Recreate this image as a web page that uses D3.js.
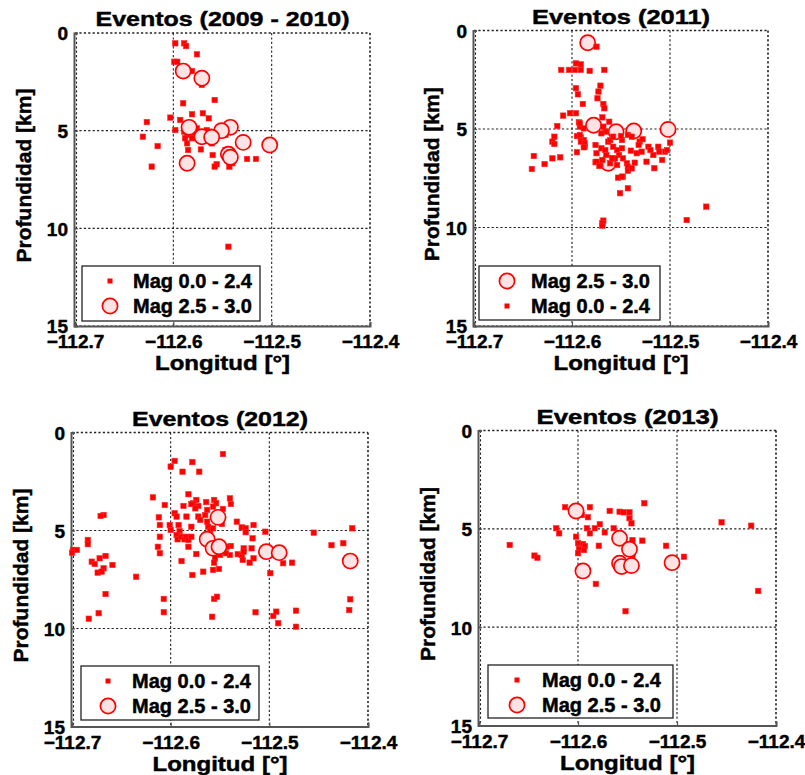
<!DOCTYPE html>
<html>
<head>
<meta charset="utf-8">
<script src="https://cdn.jsdelivr.net/npm/d3@7"></script>
<style>
  html, body { margin: 0; padding: 0; background: #fff; }
  svg { display: block; }
  text { paint-order: stroke; }
</style>
</head>
<body>
<div id="chart"></div>
<script>
// ---------------- DATA ----------------
const xTicks = [-112.7, -112.6, -112.5, -112.4];
const yTicks = [0, 5, 10, 15];
const titles = ["Eventos (2009 - 2010)", "Eventos (2011)", "Eventos (2012)", "Eventos (2013)"];
const xLabel = "Longitud [°]";
const yLabel = "Profundidad [km]";
const labelSmall = "Mag 0.0 - 2.4";
const labelLarge = "Mag 2.5 - 3.0";

// [longitude, depth km]
const small2009 = [
  [-112.598,0.53],[-112.589,0.53],[-112.587,0.67],[-112.576,1.09],[-112.599,1.47],[-112.596,1.47],
  [-112.593,2.03],[-112.581,1.95],[-112.571,2.66],[-112.558,3.43],[-112.590,3.6],[-112.581,4.16],
  [-112.570,4.11],[-112.564,4.37],[-112.603,4.33],[-112.593,4.45],[-112.627,4.56],[-112.631,5.31],
  [-112.598,4.97],[-112.616,5.79],[-112.622,6.84],[-112.586,5.65],[-112.585,5.99],[-112.572,5.96],
  [-112.589,5.05],[-112.586,5.22],[-112.583,5.0],[-112.580,5.14],[-112.576,4.88],[-112.575,5.05],
  [-112.581,5.39],[-112.588,5.39],[-112.566,4.97],[-112.563,5.05],[-112.547,5.22],[-112.561,5.65],
  [-112.547,5.99],[-112.560,6.25],[-112.556,6.72],[-112.558,6.84],[-112.542,6.59],[-112.540,6.67],
  [-112.543,6.84],[-112.525,6.45],[-112.516,6.45],[-112.544,10.94]
];
const large2009 = [
  [-112.590,1.95],[-112.571,2.32],[-112.584,4.83],[-112.542,4.83],[-112.551,5.0],[-112.571,5.31],
  [-112.561,5.34],[-112.529,5.6],[-112.502,5.73],[-112.544,6.21],[-112.542,6.36],[-112.586,6.67]
];

const small2011 = [
  [-112.575,0.82],[-112.596,1.67],[-112.591,1.72],[-112.611,2.0],[-112.603,2.0],[-112.597,2.0],
  [-112.591,2.0],[-112.582,2.05],[-112.567,2.0],[-112.571,2.8],[-112.596,2.93],[-112.573,3.1],
  [-112.594,3.24],[-112.574,3.44],[-112.568,3.73],[-112.567,3.95],[-112.589,3.73],[-112.602,4.2],
  [-112.596,4.2],[-112.609,4.32],[-112.569,4.41],[-112.562,4.63],[-112.615,4.85],[-112.593,4.66],
  [-112.592,4.88],[-112.588,4.97],[-112.618,5.39],[-112.620,5.64],[-112.618,5.76],[-112.595,5.36],
  [-112.591,5.42],[-112.588,5.56],[-112.587,5.9],[-112.595,6.18],[-112.576,5.81],[-112.575,6.23],
  [-112.639,6.37],[-112.628,6.78],[-112.620,6.49],[-112.612,6.44],[-112.641,7.03],[-112.576,6.69],
  [-112.571,6.83],[-112.553,7.47],[-112.548,7.42],[-112.551,8.26],[-112.543,8.01],
  [-112.592,4.71],[-112.568,4.88],[-112.566,5.14],[-112.570,5.22],[-112.592,5.3],[-112.591,5.64],
  [-112.587,5.73],[-112.588,5.93],[-112.563,5.64],[-112.561,5.56],[-112.558,5.39],[-112.549,5.56],
  [-112.550,5.36],[-112.570,5.98],[-112.566,6.07],[-112.565,6.32],[-112.569,6.57],[-112.554,6.07],
  [-112.549,5.98],[-112.552,6.32],[-112.556,6.49],[-112.554,6.83],[-112.548,6.49],[-112.544,6.74],
  [-112.575,6.66],[-112.572,6.88],[-112.561,6.74],[-112.543,6.91],[-112.543,7.12],[-112.539,7.0],
  [-112.549,7.42],[-112.540,6.1],[-112.534,6.23],[-112.536,6.71],[-112.529,6.15],[-112.531,5.64],
  [-112.532,5.81],[-112.528,5.52],[-112.524,6.66],[-112.522,5.9],[-112.520,6.07],[-112.517,6.32],
  [-112.516,6.99],[-112.512,5.9],[-112.511,6.15],[-112.508,6.57],[-112.505,6.15],[-112.503,6.07],
  [-112.500,5.69],[-112.543,5.3],[-112.539,5.39],[-112.559,6.49],[-112.558,5.9],
  [-112.568,9.65],[-112.569,9.79],[-112.569,9.91],[-112.483,9.62],[-112.463,8.94]
];
const large2011 = [
  [-112.584,0.62],[-112.578,4.81],[-112.555,5.14],[-112.537,5.10],[-112.502,5.02],[-112.563,6.74]
];

const small2012 = [
  [-112.547,1.1],[-112.596,1.45],[-112.600,1.74],[-112.578,1.51],[-112.588,2.0],[-112.571,2.0],
  [-112.618,3.31],[-112.582,3.15],[-112.606,3.7],[-112.587,3.75],[-112.564,3.55],[-112.556,3.44],
  [-112.554,3.61],[-112.557,3.78],[-112.547,3.9],[-112.540,3.36],[-112.539,3.65],[-112.596,4.12],
  [-112.594,4.29],[-112.584,4.29],[-112.572,4.29],[-112.570,4.46],[-112.612,4.33],[-112.611,4.72],
  [-112.601,4.72],[-112.600,4.97],[-112.533,4.55],[-112.528,4.84],[-112.524,4.89],[-112.516,4.72],
  [-112.524,5.09],[-112.504,5.06],[-112.517,5.4],[-112.611,5.32],[-112.613,5.83],[-112.611,6.16],
  [-112.582,5.83],[-112.574,6.2],[-112.589,6.56],[-112.500,6.25],[-112.497,6.2],[-112.486,6.67],
  [-112.477,6.64],[-112.499,7.18],[-112.557,7.01],[-112.551,6.96],[-112.567,7.1],[-112.578,7.27],
  [-112.635,7.36],[-112.455,5.11],[-112.437,5.75],[-112.425,5.65],[-112.416,4.89],[-112.418,8.51],
  [-112.419,9.06],[-112.668,4.21],[-112.671,4.26],[-112.699,5.99],[-112.695,5.99],[-112.700,6.13],
  [-112.684,5.48],[-112.684,5.7],[-112.680,6.59],[-112.677,6.71],[-112.672,6.42],[-112.666,6.3],
  [-112.668,6.93],[-112.674,7.15],[-112.670,7.1],[-112.659,6.76],[-112.666,8.24],[-112.673,9.22],
  [-112.683,9.5],[-112.607,8.49],[-112.607,9.17],[-112.556,8.49],[-112.553,8.38],[-112.558,9.4],
  [-112.514,9.17],[-112.496,9.36],[-112.493,9.14],[-112.491,9.73],[-112.473,9.09],[-112.473,9.91],
  [-112.592,4.72],[-112.591,5.03],[-112.594,5.23],[-112.593,5.45],[-112.589,5.32],[-112.586,5.45],
  [-112.584,5.32],[-112.582,5.48],[-112.579,5.32],[-112.579,4.81],[-112.574,3.44],[-112.577,3.61],
  [-112.572,3.75],[-112.575,3.87],[-112.579,3.65],[-112.563,4.55],[-112.562,4.81],[-112.560,5.01],
  [-112.557,4.89],[-112.548,4.67],[-112.548,4.41],[-112.565,4.21],[-112.563,3.95],[-112.555,6.16],
  [-112.555,6.42],[-112.556,6.64],[-112.550,6.25],[-112.547,6.08],[-112.540,6.25],[-112.544,6.16],
  [-112.532,6.21],[-112.528,6.25],[-112.527,6.5],[-112.526,5.91],[-112.526,6.08],[-112.518,5.91],
  [-112.516,6.42],[-112.520,6.64],[-112.539,5.79],[-112.543,5.83]
];
const large2012 = [
  [-112.552,4.33],[-112.563,5.45],[-112.557,5.91],[-112.551,5.83],[-112.503,6.08],[-112.490,6.13],
  [-112.418,6.56]
];

const small2013 = [
  [-112.533,3.7],[-112.613,3.9],[-112.588,3.9],[-112.568,4.09],[-112.558,4.13],[-112.554,4.16],
  [-112.548,4.16],[-112.596,4.3],[-112.590,4.41],[-112.548,4.46],[-112.546,4.72],[-112.578,4.77],
  [-112.622,4.97],[-112.619,5.23],[-112.591,4.97],[-112.583,4.97],[-112.564,4.97],[-112.588,5.23],
  [-112.573,5.18],[-112.602,5.4],[-112.545,5.57],[-112.535,5.6],[-112.669,5.82],[-112.600,5.73],
  [-112.595,5.77],[-112.593,5.87],[-112.599,6.02],[-112.594,6.08],[-112.600,6.24],[-112.579,5.86],
  [-112.511,5.86],[-112.644,6.36],[-112.641,6.47],[-112.545,6.42],[-112.493,6.42],[-112.582,7.8],
  [-112.552,9.19],[-112.455,4.67],[-112.425,4.84],[-112.418,8.16]
];
const large2013 = [
  [-112.602,4.09],[-112.558,5.48],[-112.548,6.04],[-112.558,6.75],[-112.556,6.92],[-112.546,6.87],
  [-112.505,6.72],[-112.595,7.14]
];

// ---------------- LAYOUT ----------------
const W = 805, H = 775;
const FONT = "'Liberation Sans', Arial, Helvetica, sans-serif";
const RED = "#ff0000";
const PINK = "#fde3e3";
const TXT_STROKE = 0.45;

const panels = [
  { title: titles[0], small: small2009, large: large2009, smallFirst: true,
    box: {l: 75, r: 370, t: 33, b: 326}, ylabOff: 51, titleW: 254,
    leg: {x: 82, y: 266, w: 178, h: 55, mx: 110, tx: 133} },
  { title: titles[1], small: small2011, large: large2011, smallFirst: false,
    box: {l: 474, r: 768, t: 30.5, b: 326}, ylabOff: 42.5, titleW: 178,
    leg: {x: 479, y: 266, w: 181, h: 54, mx: 507, tx: 531} },
  { title: titles[2], small: small2012, large: large2012, smallFirst: true,
    box: {l: 72, r: 368, t: 432.5, b: 726.5}, ylabOff: 51, titleW: 176,
    leg: {x: 81, y: 666, w: 178, h: 54, mx: 108, tx: 132} },
  { title: titles[3], small: small2013, large: large2013, smallFirst: true,
    box: {l: 479, r: 776, t: 430.5, b: 725.5}, ylabOff: 51, titleW: 182,
    leg: {x: 488, y: 665, w: 185, h: 53, mx: 517, tx: 542} }
];

const svg = d3.select("#chart").append("svg")
  .attr("width", W).attr("height", H)
  .attr("font-family", FONT);
svg.append("rect").attr("width", W).attr("height", H).attr("fill", "#fff");

const fmt = v => String(v).replace("-", "\u2212");

function heavy(sel) {
  return sel.attr("fill", "#000").attr("stroke", "#000").attr("stroke-width", TXT_STROKE);
}

function drawSmall(g, x, y, data) {
  g.selectAll("rect.sm").data(data).join("rect").attr("class", "sm")
    .attr("x", d => x(d[0]) - 2.7).attr("y", d => y(d[1]) - 2.7)
    .attr("width", 5.4).attr("height", 5.4)
    .attr("fill", RED).attr("stroke", "#ff2a2a").attr("stroke-width", 0.6);
}
function drawLarge(g, x, y, data) {
  g.selectAll("circle.lg").data(data).join("circle").attr("class", "lg")
    .attr("cx", d => x(d[0])).attr("cy", d => y(d[1])).attr("r", 7.6)
    .attr("fill", PINK).attr("stroke", RED).attr("stroke-width", 1.7);
}

panels.forEach(p => {
  const {l, r, t, b} = p.box;
  const x = d3.scaleLinear().domain([xTicks[0], xTicks[xTicks.length - 1]]).range([l, r]);
  const y = d3.scaleLinear().domain([yTicks[0], yTicks[yTicks.length - 1]]).range([t, b]);
  const g = svg.append("g");

  // grid (dotted), including boundary lines
  g.append("g").selectAll("line").data(xTicks).join("line")
    .attr("x1", d => x(d) + (d === xTicks[0] ? 1.5 : 0)).attr("x2", d => x(d) + (d === xTicks[0] ? 1.5 : 0))
    .attr("y1", t).attr("y2", b)
    .attr("stroke", "#222").attr("stroke-width", (d, i) => i === xTicks.length - 1 ? 1.6 : 1.1)
    .attr("stroke-dasharray", "2.2,2.2");
  g.append("g").selectAll("line").data(yTicks).join("line")
    .attr("x1", l).attr("x2", r)
    .attr("y1", d => y(d)).attr("y2", d => y(d))
    .attr("stroke", "#222").attr("stroke-width", (d, i) => i === 0 ? 1.4 : 1.1)
    .attr("stroke-dasharray", "2.2,2.2");

  // axes via d3 (left, bottom), styled
  const xAxis = d3.axisBottom(x).tickValues(xTicks).tickSize(-4).tickFormat(fmt).tickPadding(8);
  const yAxis = d3.axisLeft(y).tickValues(yTicks).tickSize(-4).tickFormat(fmt).tickPadding(8);
  const gx = g.append("g").attr("transform", `translate(0,${b})`).call(xAxis);
  const gy = g.append("g").attr("transform", `translate(${l - 1},0)`).call(yAxis);
  [gx, gy].forEach(a => {
    a.select(".domain").attr("stroke", "#555").attr("stroke-width", 2);
    a.selectAll(".tick line").attr("stroke", "#555").attr("stroke-width", 1.2);
    heavy(a.selectAll(".tick text")).attr("font-family", FONT)
      .attr("font-size", 19).attr("font-weight", "bold");
  });
  gx.selectAll(".tick text").attr("dy", null).attr("y", 22).attr("dominant-baseline", "auto");
  gy.selectAll(".tick text").attr("x", -6).attr("dy", "0.36em");

  // markers
  const mg = g.append("g");
  if (p.smallFirst) { drawSmall(mg, x, y, p.small); drawLarge(mg, x, y, p.large); }
  else { drawLarge(mg, x, y, p.large); drawSmall(mg, x, y, p.small); }

  // title
  heavy(g.append("text")).attr("x", (l + r) / 2).attr("y", t - 7)
    .attr("text-anchor", "middle").attr("font-size", 21).attr("font-weight", "bold")
    .attr("textLength", p.titleW).attr("lengthAdjust", "spacingAndGlyphs")
    .text(p.title);
  // x label
  heavy(g.append("text")).attr("x", (l + r) / 2).attr("y", b + 44)
    .attr("text-anchor", "middle").attr("font-size", 20).attr("font-weight", "bold")
    .attr("textLength", 135).attr("lengthAdjust", "spacingAndGlyphs")
    .text(xLabel);
  // y label
  const cy = (t + b) / 2 - 4;
  heavy(g.append("text")).attr("transform", `translate(${l - p.ylabOff + 7},${cy}) rotate(-90)`)
    .attr("text-anchor", "middle").attr("font-size", 21).attr("font-weight", "bold")
    .attr("textLength", 174).attr("lengthAdjust", "spacingAndGlyphs")
    .text(yLabel);

  // legend
  const L = p.leg;
  const lg = g.append("g");
  lg.append("rect").attr("x", L.x).attr("y", L.y).attr("width", L.w).attr("height", L.h)
    .attr("fill", "#fff").attr("stroke", "#222").attr("stroke-width", 1.3);
  const entries = p.smallFirst ? ["small", "large"] : ["large", "small"];
  entries.forEach((e, i) => {
    const yy = L.y + 15 + i * 25;
    if (e === "small") {
      lg.append("rect").attr("x", L.mx - 2.5).attr("y", yy - 2.5).attr("width", 5).attr("height", 5)
        .attr("fill", RED);
    } else {
      lg.append("circle").attr("cx", L.mx).attr("cy", yy).attr("r", 7.6)
        .attr("fill", PINK).attr("stroke", RED).attr("stroke-width", 1.7);
    }
    heavy(lg.append("text")).attr("x", L.tx).attr("y", yy).attr("dy", "0.36em")
      .attr("font-size", 19.5).attr("font-weight", "bold")
      .attr("textLength", 119).attr("lengthAdjust", "spacingAndGlyphs")
      .text(e === "small" ? labelSmall : labelLarge);
  });
});
</script>
</body>
</html>
